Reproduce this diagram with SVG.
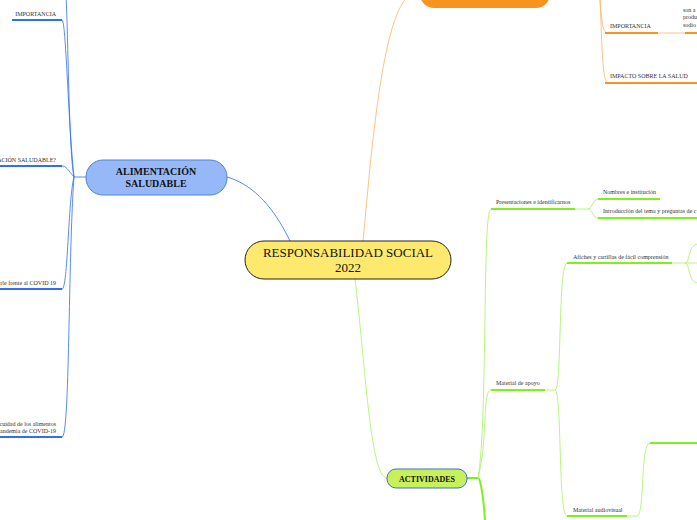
<svg xmlns="http://www.w3.org/2000/svg" width="697" height="520" viewBox="0 0 697 520">
<style>
.t{font-family:"Liberation Serif",serif;font-size:6px;fill:#333}
.b{fill:none;stroke:#2f6ff0;stroke-width:0.8}
.bt{fill:none;stroke:#2f6ff0;stroke-width:2}
.o{fill:none;stroke:#f9b46a;stroke-width:0.8}
.ot{fill:none;stroke:#f7931e;stroke-width:2}
.g{fill:none;stroke:#a8f060;stroke-width:0.8}
.gt{fill:none;stroke:#7ff01e;stroke-width:2}
</style>
<rect width="697" height="520" fill="#fff"/>
<g id="connectors">
<path class="b" d="M290,241 C275,210 255,185 227,177" stroke="#9ab4f0"/>
<path class="b" d="M86,177 L74,177"/>
<path class="b" d="M74,177 C68,150 68,-10 65,-10"/>
<path class="b" d="M74,177 C68,120 66,20 62,20 M74,177 C68,170 66,166 62,166 M74,177 C68,200 68,289 62,289 M74,177 C68,260 70,437 62,437" stroke="#9ab4f0"/>
<path class="bt" d="M12,20 H62 M0,166 H62 M0,289 H62 M0,437 H62"/>
<path class="o" d="M363,241 C370,170 380,30 405,0"/>
<path class="o" d="M600,0 C602,20 602,33 608,33 M600,0 C602,40 602,83 608,83"/>
<path class="ot" d="M605,33 H658 M685,33 H697 M605,83 H697"/>
<path class="o" d="M658,33 H685"/>
<path class="g" d="M355,279 C365,360 370,478 387,478"/>
<path class="gt" d="M467,478 H478"/>
<path class="g" d="M478,478 C488,420 482,209 491,209 M478,478 C488,440 482,390 491,390"/>
<path class="gt" d="M479,478 C483,490 484,505 485,520"/>
<path class="gt" d="M491,209 H575 M491,390 H545 M598,199 H660 M598,218 H697 M567,263 H672 M567,516 H627 M650,443 H697"/>
<path class="g" d="M575,209 H588 C592,209 593,199 598,199 M588,209 C592,209 593,218 598,218 M545,390 H555 C562,390 558,263 567,263 M555,390 C562,390 558,516 567,516 M672,263 H697 M685,263 C690,263 688,246 697,244 M685,263 C690,263 688,282 697,283 M627,516 H637 C645,516 640,443 650,443"/>
</g>
<g id="central">
<rect x="245" y="241" width="206" height="38" rx="19" fill="#fde96e" stroke="#222" stroke-width="1"/>
<text x="348" y="257" font-family="Liberation Serif,serif" font-size="13" text-anchor="middle" fill="#111">RESPONSABILIDAD SOCIAL</text>
<text x="348" y="272" font-family="Liberation Serif,serif" font-size="13" text-anchor="middle" fill="#111">2022</text>
</g>
<g id="alimentacion">
<rect x="86" y="160" width="141" height="35" rx="17" fill="#96b8f8" stroke="#4a84d8" stroke-width="1"/>
<text x="156" y="175" font-family="Liberation Serif,serif" font-size="10" font-weight="bold" text-anchor="middle" fill="#111">ALIMENTACIÓN</text>
<text x="156" y="187" font-family="Liberation Serif,serif" font-size="10" font-weight="bold" text-anchor="middle" fill="#111">SALUDABLE</text>
</g>
<g id="orange"><rect x="420" y="-20" width="130" height="28" rx="14" fill="#f7931e"/></g>
<g id="actividades">
<rect x="387" y="469" width="80" height="19" rx="9" fill="#c8f05a" stroke="#3a6fd8" stroke-width="1"/>
<text x="427" y="482" font-family="Liberation Serif,serif" font-size="8" font-weight="bold" text-anchor="middle" fill="#111">ACTIVIDADES</text>
</g>
<g id="left-leaves">
<text class="t" x="56" y="16" text-anchor="end">IMPORTANCIA</text>
<text class="t" x="56" y="162" text-anchor="end">ACIÓN SALUDABLE?</text>
<text class="t" x="56" y="285" text-anchor="end">rle frente al COVID 19</text>
<text class="t" x="56" y="426" text-anchor="end">cuidad de los alimentos</text>
<text class="t" x="56" y="433" text-anchor="end">andemia de COVID-19</text>
</g>
<g id="right-leaves">
<text class="t" x="610" y="28">IMPORTANCIA</text>
<text class="t" x="683" y="12">son a</text>
<text class="t" x="683" y="19">produ</text>
<text class="t" x="683" y="27">sodio</text>
<text class="t" x="610" y="78">IMPACTO SOBRE  LA SALUD</text>
<text class="t" x="496" y="204">Presentaciones e identificarnos</text>
<text class="t" x="603" y="194">Nombres e institución</text>
<text class="t" x="603" y="213">Introducción del tema y preguntas de c</text>
<text class="t" x="573" y="259">Afiches y cartillas de fácil comprensión</text>
<text class="t" x="496" y="385">Material de apoyo</text>
<text class="t" x="573" y="512">Material audiovisual</text>
</g>
</svg>
